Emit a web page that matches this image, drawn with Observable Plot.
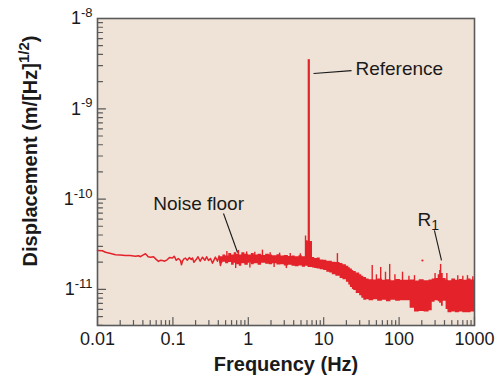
<!DOCTYPE html>
<html>
<head>
<meta charset="utf-8">
<script src="https://cdn.jsdelivr.net/npm/d3@7"></script>
<script src="https://cdn.jsdelivr.net/npm/@observablehq/plot@0.6"></script>
<style>
  html, body { margin: 0; padding: 0; background: #ffffff; }
  svg { display: block; }
</style>
</head>
<body>
<script>
// ---------- data ----------
// thin low-frequency part of the noise trace (Hz, m/Hz^1/2)
const traceFreq = [0.010, 0.0116, 0.0128, 0.015, 0.0173, 0.020, 0.0235, 0.027, 0.0319, 0.035, 0.0371, 0.040, 0.0433, 0.047, 0.0505, 0.0553, 0.060, 0.0643, 0.068, 0.0727, 0.078, 0.0845, 0.090, 0.0985, 0.104, 0.111, 0.118, 0.126, 0.130, 0.134, 0.140, 0.147, 0.155, 0.165, 0.175, 0.182, 0.190, 0.205, 0.215, 0.230, 0.247, 0.265, 0.280, 0.297, 0.315, 0.335, 0.366, 0.390, 0.410, 0.427, 0.450];
const traceAmp = [2.70e-11, 2.68e-11, 2.58e-11, 2.50e-11, 2.42e-11, 2.40e-11, 2.38e-11, 2.37e-11, 2.33e-11, 2.36e-11, 2.30e-11, 2.40e-11, 2.48e-11, 2.30e-11, 2.27e-11, 2.30e-11, 2.15e-11, 2.04e-11, 2.10e-11, 2.09e-11, 2.05e-11, 2.14e-11, 2.25e-11, 2.22e-11, 2.33e-11, 2.10e-11, 2.20e-11, 2.09e-11, 1.87e-11, 2.05e-11, 2.18e-11, 2.22e-11, 2.10e-11, 2.25e-11, 2.15e-11, 2.22e-11, 2.00e-11, 2.15e-11, 2.30e-11, 2.05e-11, 2.27e-11, 2.10e-11, 2.30e-11, 2.09e-11, 2.20e-11, 1.95e-11, 2.28e-11, 2.05e-11, 2.35e-11, 1.84e-11, 2.20e-11];

// thick noisy band: lower and upper envelope
const bandFreq = [0.42, 0.46, 0.50, 0.55, 0.60, 0.65, 0.70, 0.76, 0.82, 0.90, 1.00, 1.10, 1.20, 1.35, 1.50, 1.70, 1.90, 2.10, 2.40, 2.70, 3.00, 3.40, 3.80, 4.20, 4.70, 5.20, 5.74, 6.20, 7.10, 7.60, 8.20, 9.00, 10.0, 11.0, 12.0, 13.0, 14.5, 16.5, 18.0, 20.0, 21.5, 22.6, 24.0, 25.0, 27.0, 30.0, 32.0, 34.0, 37.0, 40.0, 46.0, 52.0, 60.0, 68.0, 78.0, 90.0, 104, 140, 160, 185, 215, 250, 275, 300, 330, 345, 365, 385, 420, 445, 500, 560, 630, 700, 800, 900, 1000];
const bandLow = [1.95e-11, 2.00e-11, 1.92e-11, 1.98e-11, 1.85e-11, 1.95e-11, 1.88e-11, 1.80e-11, 1.92e-11, 1.85e-11, 1.95e-11, 1.88e-11, 1.92e-11, 1.85e-11, 1.95e-11, 1.90e-11, 1.88e-11, 1.92e-11, 1.86e-11, 1.88e-11, 1.82e-11, 1.85e-11, 1.80e-11, 1.78e-11, 1.82e-11, 1.76e-11, 1.80e-11, 1.75e-11, 1.72e-11, 1.70e-11, 1.68e-11, 1.65e-11, 1.62e-11, 1.55e-11, 1.52e-11, 1.45e-11, 1.40e-11, 1.32e-11, 1.28e-11, 1.20e-11, 1.12e-11, 1.05e-11, 1.00e-11, 0.97e-11, 0.90e-11, 0.85e-11, 0.80e-11, 0.76e-11, 0.77e-11, 0.75e-11, 0.77e-11, 0.74e-11, 0.76e-11, 0.73e-11, 0.76e-11, 0.74e-11, 0.75e-11, 0.62e-11, 0.56e-11, 0.57e-11, 0.56e-11, 0.58e-11, 0.72e-11, 0.75e-11, 0.73e-11, 0.70e-11, 0.65e-11, 0.74e-11, 0.60e-11, 0.55e-11, 0.56e-11, 0.55e-11, 0.56e-11, 0.55e-11, 0.55e-11, 0.56e-11, 0.55e-11];
const bandHigh = [2.30e-11, 2.40e-11, 2.35e-11, 2.50e-11, 2.40e-11, 2.55e-11, 2.45e-11, 2.40e-11, 2.55e-11, 2.45e-11, 2.40e-11, 2.50e-11, 2.40e-11, 2.45e-11, 2.38e-11, 2.45e-11, 2.40e-11, 2.36e-11, 2.42e-11, 2.35e-11, 2.38e-11, 2.32e-11, 2.35e-11, 2.30e-11, 2.36e-11, 2.30e-11, 3.45e-11, 3.40e-11, 2.25e-11, 2.20e-11, 2.22e-11, 2.12e-11, 2.10e-11, 2.05e-11, 2.05e-11, 2.00e-11, 1.98e-11, 1.94e-11, 1.88e-11, 1.80e-11, 1.74e-11, 1.68e-11, 1.62e-11, 1.58e-11, 1.52e-11, 1.45e-11, 1.40e-11, 1.35e-11, 1.30e-11, 1.28e-11, 1.27e-11, 1.30e-11, 1.26e-11, 1.28e-11, 1.25e-11, 1.29e-11, 1.26e-11, 1.27e-11, 1.24e-11, 1.28e-11, 1.25e-11, 1.27e-11, 1.30e-11, 1.32e-11, 1.45e-11, 1.62e-11, 1.50e-11, 1.32e-11, 1.27e-11, 1.25e-11, 1.30e-11, 1.26e-11, 1.29e-11, 1.26e-11, 1.30e-11, 1.27e-11, 1.28e-11];

// narrow spikes above / below the band
const spikeFreq = [0.52, 0.74, 0.95, 1.22, 1.54, 1.95, 2.6, 3.6, 4.9, 0.68, 1.05, 2.2, 3.2, 5.74, 15.2, 44, 50, 57, 66, 75, 88, 111, 135, 160, 300, 355, 430, 600, 700, 807, 950];
const spikeLow = [2.3e-11, 2.3e-11, 2.3e-11, 2.3e-11, 2.3e-11, 2.3e-11, 2.3e-11, 2.2e-11, 2.2e-11, 1.70e-11, 1.72e-11, 1.75e-11, 1.70e-11, 2.0e-11, 1.8e-11, 1.2e-11, 1.2e-11, 1.2e-11, 1.2e-11, 1.2e-11, 1.2e-11, 1.2e-11, 1.2e-11, 1.2e-11, 1.2e-11, 1.2e-11, 1.2e-11, 1.2e-11, 1.2e-11, 1.2e-11, 1.2e-11];
const spikeHigh = [2.62e-11, 2.70e-11, 2.60e-11, 2.58e-11, 2.72e-11, 2.55e-11, 2.52e-11, 2.50e-11, 2.48e-11, 2.0e-11, 1.95e-11, 1.95e-11, 1.9e-11, 3.9e-11, 2.49e-11, 1.84e-11, 1.45e-11, 1.75e-11, 1.55e-11, 1.89e-11, 1.45e-11, 1.55e-11, 1.40e-11, 1.42e-11, 1.50e-11, 1.89e-11, 1.50e-11, 1.42e-11, 1.40e-11, 1.42e-11, 1.38e-11];

// reference line peak
const peakFreq = [6.34];
const peakLow = [2.2e-11];
const peakHigh = [3.5e-9];

// isolated point
const dotFreq = [204];
const dotAmp = [2.09e-11];

// annotations (data space)
const annText = ["Reference", "Noise floor", "R_{1}"];
const annFreq = [26.4, 0.219, 175];
const annAmp = [2.79e-9, 8.9e-11, 5.94e-11];
const annAnchor = ["start", "middle", "start"];
const leadFreq1 = [7.33, 0.469, 294];
const leadAmp1 = [2.46e-9, 6.93e-11, 4.49e-11];
const leadFreq2 = [23.4, 0.72, 365];
const leadAmp2 = [2.65e-9, 2.56e-11, 2.09e-11];

// ticks
const xTicks = [0.01, 0.1, 1, 10, 100, 1000];
const xTickLabels = ["0.01", "0.1", "1", "10", "100", "1000"];
const yTicks = [1e-8, 1e-9, 1e-10, 1e-11];
const yTickLabels = ["1^{-8}", "1^{-9}", "1^{-10}", "1^{-11}"];
const minorMultipliers = [2, 3, 4, 5, 6, 7, 8, 9];
const xDecades = [0.01, 0.1, 1, 10, 100];
const yDecades = [1e-12, 1e-11, 1e-10, 1e-9];
const xLabel = "Frequency (Hz)";
const yLabel = "Displacement (m/[Hz]^{1/2})";

// ---------- build ----------
const RED = "#e3222a";
const BG = "#efe3d7";
const AXIS = "#5a5a5a";
const yMin = Math.pow(10, -11.4);

const trace = traceFreq.map((f, i) => ({f, a: traceAmp[i]}));
const band = bandFreq.map((f, i) => ({f, lo: bandLow[i], hi: bandHigh[i]}));
const spikes = spikeFreq.map((f, i) => ({f, lo: spikeLow[i], hi: spikeHigh[i]}));
const peak = peakFreq.map((f, i) => ({f, lo: peakLow[i], hi: peakHigh[i]}));
const dots = dotFreq.map((f, i) => ({f, a: dotAmp[i]}));
const anns = annText.map((t, i) => ({t, f: annFreq[i], a: annAmp[i], anchor: annAnchor[i]}));
const leads = leadFreq1.map((f, i) => ({f1: f, a1: leadAmp1[i], f2: leadFreq2[i], a2: leadAmp2[i]}));

const xMinor = xDecades.flatMap(d => minorMultipliers.map(m => d * m));
const yMinor = yDecades.flatMap(d => minorMultipliers.map(m => d * m)).filter(v => v >= yMin && v < 1e-8);

const tickShape = {draw(context, l) { context.moveTo(0, 0); context.lineTo(0, -l); }};

const svg = Plot.plot({
  width: 500,
  height: 375,
  marginLeft: 97,
  marginRight: 26,
  marginTop: 18,
  marginBottom: 50,
  style: {fontFamily: "'Liberation Sans', Arial, Helvetica, sans-serif", fontSize: "18px", background: "#ffffff", color: "#1a1a1a"},
  x: {type: "log", domain: [0.01, 1000], label: null},
  y: {type: "log", domain: [yMin, 1e-8], label: null},
  marks: [
    Plot.frame({fill: BG}),
    Plot.areaY(band, {x: "f", y1: "lo", y2: "hi", curve: "step-after", fill: RED}),
    Plot.line(trace, {x: "f", y: "a", stroke: RED, strokeWidth: 1.5}),
    Plot.ruleX(spikes, {x: "f", y1: "lo", y2: "hi", stroke: RED, strokeWidth: 1.4}),
    Plot.ruleX(peak, {x: "f", y1: "lo", y2: "hi", stroke: RED, strokeWidth: 2.2}),
    Plot.dot(dots, {x: "f", y: "a", r: 1.1, fill: RED}),
    Plot.link(leads, {x1: "f1", y1: "a1", x2: "f2", y2: "a2", stroke: "#1a1a1a", strokeWidth: 1.1}),
    Plot.text(anns.filter(d => d.anchor === "start"), {x: "f", y: "a", text: "t", textAnchor: "start", fontSize: 19, fill: "#1a1a1a"}),
    Plot.text(anns.filter(d => d.anchor === "middle"), {x: "f", y: "a", text: "t", textAnchor: "middle", fontSize: 19, fill: "#1a1a1a"}),
    // inward ticks
    Plot.vector(yTicks, {y: d => d, frameAnchor: "left", length: 8, rotate: 90, anchor: "start", shape: tickShape, stroke: AXIS, strokeWidth: 1.2}),
    Plot.vector(yMinor, {y: d => d, frameAnchor: "left", length: 5, rotate: 90, anchor: "start", shape: tickShape, stroke: AXIS, strokeWidth: 1.2}),
    Plot.vector(xTicks, {x: d => d, frameAnchor: "bottom", length: 8, rotate: 0, anchor: "start", shape: tickShape, stroke: AXIS, strokeWidth: 1.2}),
    Plot.vector(xMinor, {x: d => d, frameAnchor: "bottom", length: 5, rotate: 0, anchor: "start", shape: tickShape, stroke: AXIS, strokeWidth: 1.2}),
    Plot.axisX(xTicks, {tickSize: 0, tickPadding: 7, tickFormat: d => xTickLabels[xTicks.indexOf(d)], label: null, fontSize: 18}),
    Plot.axisY(yTicks, {tickSize: 0, tickPadding: 5, tickFormat: d => yTickLabels[yTicks.indexOf(d)], label: null, fontSize: 18}),
    Plot.text([xLabel], {frameAnchor: "bottom", dy: 39, text: d => d, textAnchor: "middle", fontSize: 20, fontWeight: "bold", lineAnchor: "middle"}),
    Plot.text([yLabel], {frameAnchor: "left", dx: -67, dy: -21, rotate: -90, text: d => d, textAnchor: "middle", fontSize: 20, fontWeight: "bold", lineAnchor: "middle"}),
    Plot.frame({stroke: AXIS, strokeWidth: 1.6})
  ]
});
document.body.append(svg);

// rich text: ^{...} superscript, _{...} subscript
function richify(node) {
  const t = node.textContent;
  if (!/[\^_]\{/.test(t)) return;
  const base = parseFloat(getComputedStyle(node).fontSize) || 18;
  const parts = t.split(/([\^_]\{[^}]*\})/).filter(s => s.length);
  while (node.firstChild) node.removeChild(node.firstChild);
  let shift = 0;
  for (const p of parts) {
    const m = p.match(/^([\^_])\{(.*)\}$/);
    const ts = document.createElementNS("http://www.w3.org/2000/svg", "tspan");
    let target = 0;
    if (m) {
      target = m[1] === "^" ? -0.4 * base : 0.25 * base;
      ts.setAttribute("font-size", Math.round(base * 0.74) + "px");
      ts.textContent = m[2];
    } else {
      ts.textContent = p;
    }
    ts.setAttribute("dy", (target - shift).toFixed(1));
    shift = target;
    node.appendChild(ts);
  }
}
d3.select(svg).selectAll("text").each(function() { richify(this); });
</script>
</body>
</html>
